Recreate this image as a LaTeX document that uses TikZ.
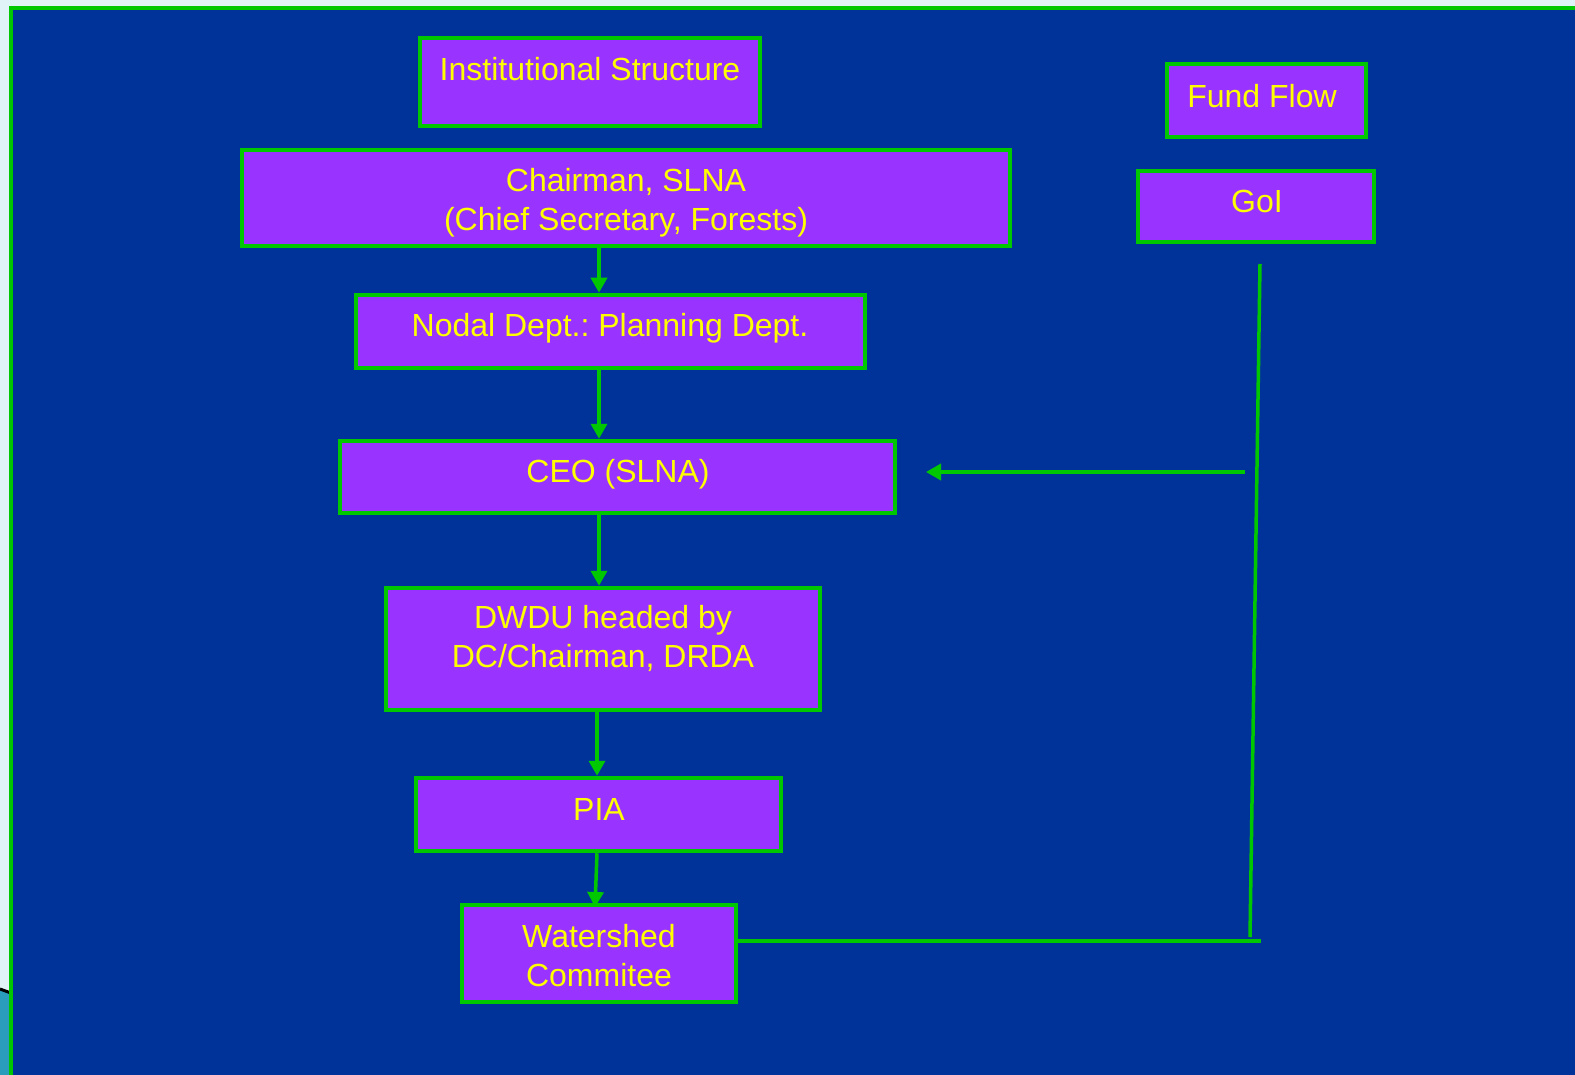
\documentclass[tikz,border=0pt]{standalone}
\usepackage{fontspec}
\setmainfont{Liberation Sans}
\usetikzlibrary{arrows.meta}
\definecolor{bgblue}{HTML}{003399}
\definecolor{grn}{HTML}{00C800}
\definecolor{purp}{HTML}{9933FF}
\definecolor{yel}{HTML}{FFFF00}
\definecolor{pale}{HTML}{E0F4F8}
\definecolor{teal}{HTML}{2A9CBC}
\tikzset{
  box/.style={draw=grn, fill=purp, line width=4.5pt, inner sep=0pt, rectangle},
  txt/.style={text=yel, font=\fontsize{32}{39}\selectfont\frenchspacing, align=center, inner sep=0pt},
  conn/.style={draw=grn, line width=3.5pt},
  arr/.style={conn, -{Triangle[width=16pt,length=15pt]}}
}
\begin{document}
\begin{tikzpicture}[x=1pt,y=-1pt]
\useasboundingbox (0,0) rectangle (1575,1075);
\fill[pale] (0,0) rectangle (1575,1075);
\fill[teal] (0,990) -- (11,994) -- (11,1075) -- (0,1075) -- cycle;
\draw[black, line width=3pt] (0,989) -- (11,993);
\draw[grn, fill=bgblue, line width=4.5pt] (11,8) rectangle (1590,1090);

% boxes
\node[box, minimum width=340pt, minimum height=88pt] (inst) at (590,82) {};
\node[box, minimum width=768pt, minimum height=96pt] (chair) at (626,198) {};
\node[box, minimum width=509pt, minimum height=73pt] (nodal) at (610.5,331.5) {};
\node[box, minimum width=555pt, minimum height=72pt] (ceo) at (617.5,477) {};
\node[box, minimum width=434pt, minimum height=122pt] (dwdu) at (603,649) {};
\node[box, minimum width=365pt, minimum height=73pt] (pia) at (598.5,814.5) {};
\node[box, minimum width=274pt, minimum height=97pt] (ws) at (599,953.5) {};
\node[box, minimum width=199pt, minimum height=73pt] (fund) at (1266.5,100.5) {};
\node[box, minimum width=236pt, minimum height=71pt] (goi) at (1256,206.5) {};

% texts
\node[txt] (tinst) at (590,69) {Institutional Structure};
\node[txt] (tchair) at (626,202.5) {Chairman, SLNA\\(Chief Secretary, Forests)};
\node[txt] (tnodal) at (610,328) {Nodal Dept.: Planning Dept.};
\node[txt] (tceo) at (618,474) {CEO (SLNA)};
\node[txt] (tdwdu) at (603,638.5) {DWDU headed by\\DC/Chairman, DRDA};
\node[txt] (tpia) at (599,809) {PIA};
\node[txt] (tws) at (599,955.5) {Watershed\\Commitee};
\node[txt] (tfund) at (1262,96) {Fund Flow};
\node[txt] (tgoi) at (1257,201) {GoI};

% connectors
\coordinate (spine) at (599,0);
\coordinate (spine2) at (597,0);
\draw[arr] (chair.south -| spine) -- (nodal.north -| spine);
\draw[arr] (nodal.south -| spine) -- (ceo.north -| spine);
\draw[arr] (ceo.south -| spine) -- (dwdu.north -| spine);
\draw[arr] (dwdu.south -| spine2) -- (pia.north -| spine2);
\coordinate (wstop) at (595,907);
\draw[arr] (pia.south -| spine2) -- (wstop);

\coordinate (gtop) at (1260,264);
\coordinate (gbot) at (1250,937);
\coordinate (hend) at (1261,941);
\coordinate (cstart) at (1245,472);
\coordinate (ctip) at (926,472);
\draw[conn] (gtop) -- (gbot);
\draw[conn] (ws.east |- hend) -- (hend);
\draw[arr] (cstart) -- (ctip);
\end{tikzpicture}
\end{document}
